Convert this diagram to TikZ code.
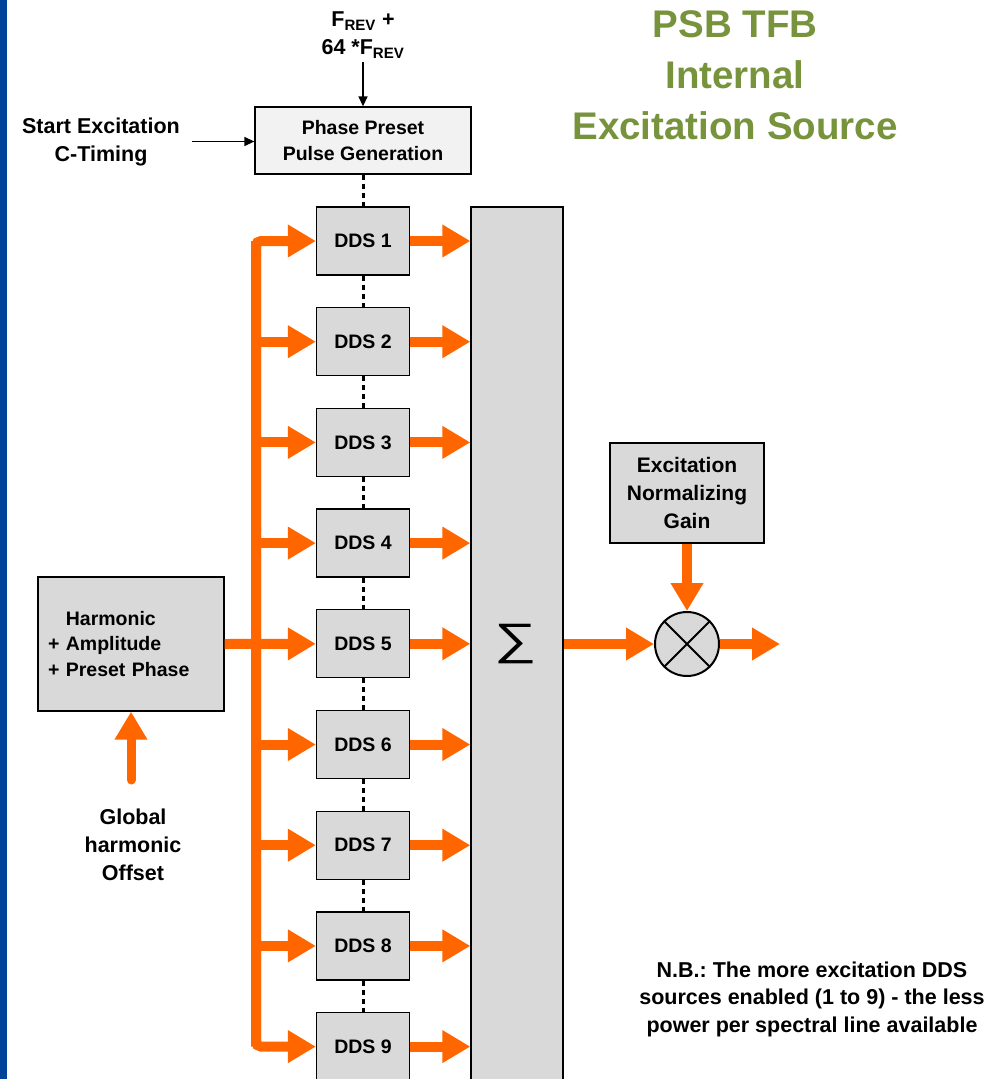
\documentclass[tikz,border=0pt]{standalone}
\usepackage{fontspec}
\setmainfont{Liberation Sans}
\usetikzlibrary{arrows.meta}
\definecolor{tfborange}{RGB}{255,102,0}
\definecolor{tfbgray}{RGB}{217,217,217}
\definecolor{tfbgreen}{RGB}{119,147,60}
\definecolor{tfbblue}{RGB}{0,68,153}
\frenchspacing
\begin{document}
\begin{tikzpicture}[x=1pt,y=-1pt,
  box/.style={draw, line width=1.3pt, fill=tfbgray, align=center,
    font=\bfseries\fontsize{19.5}{25.7}\selectfont},
  dds/.style={box, minimum width=93pt, minimum height=68pt},
  lbl/.style={align=center, font=\bfseries\fontsize{21.5}{28}\selectfont},
  fat/.style={draw=tfborange, line width=10pt, -{Triangle[length=28pt,width=31pt]}},
  thin/.style={line width=1.4pt, -{Triangle[length=10pt,width=9pt]}},
  dots/.style={line width=3pt, dash pattern=on 5pt off 4pt}]
  \useasboundingbox (0,0) rectangle (996,1079);
  \fill[tfbblue] (0,0) rectangle (7,1079);

  % title and notes
  \node[lbl, text=tfbgreen, font=\bfseries\fontsize{38.5}{51}\selectfont] (title) at (735,75)
    {PSB TFB\\Internal\\Excitation Source};
  \node[lbl, font=\bfseries\fontsize{21.5}{27.5}\selectfont] (nb) at (812,999)
    {N.B.: The more excitation DDS\\sources enabled (1 to 9) - the less\\power per spectral line available};

  % phase preset
  \node[lbl] (frev) at (363,35) {F\textsubscript{REV} +\\64 *F\textsubscript{REV}};
  \node[lbl] (start) at (101,141.5) {Start Excitation\\C-Timing};
  \node[box, fill=black!5, minimum width=216pt, minimum height=67pt] (phase) at (363,140.5)
    {Phase Preset\\Pulse Generation};
  \draw[thin] (frev.south) -- (phase.north);
  \draw[thin] ([xshift=9pt]start.east) -- (start.east -| phase.west);

  % DDS bank
  \node[dds] (d1) at (363,241) {DDS 1};     \node[dds] (d2) at (363,341.7) {DDS 2};
  \node[dds] (d3) at (363,442.4) {DDS 3};   \node[dds] (d4) at (363,543.1) {DDS 4};
  \node[dds] (d5) at (363,643.8) {DDS 5};   \node[dds] (d6) at (363,744.5) {DDS 6};
  \node[dds] (d7) at (363,845.2) {DDS 7};   \node[dds] (d8) at (363,945.9) {DDS 8};
  \node[dds] (d9) at (363,1046.6) {DDS 9};
  \draw[dots] (phase.south) -- (d1.north);
  \draw[dots] (d1.south) -- (d2.north); \draw[dots] (d2.south) -- (d3.north);
  \draw[dots] (d3.south) -- (d4.north); \draw[dots] (d4.south) -- (d5.north);
  \draw[dots] (d5.south) -- (d6.north); \draw[dots] (d6.south) -- (d7.north);
  \draw[dots] (d7.south) -- (d8.north); \draw[dots] (d8.south) -- (d9.north);

  % summing bar
  \node[draw, line width=1.3pt, fill=tfbgray, minimum width=92pt, minimum height=884pt] (sum) at (517,649) {};
  \node[font=\fontsize{44}{44}\selectfont, inner sep=0pt] (sig) at (515.5,644) {\scalebox{1.35}[1]{∑}};

  % harmonic settings
  \node[box, text width=166pt, align=left, inner xsep=10pt, minimum height=134pt] (harm) at (131,644)
    {\phantom{+ }Harmonic\\+ Amplitude\\+ Preset Phase};
  \node[lbl] (glob) at (133,845) {Global\\harmonic\\Offset};
  \coordinate (gtail) at (131,780);
  \draw[fat, line width=9pt, line cap=round] (gtail) -- (gtail |- harm.south);

  % distribution bus
  \coordinate (b1) at (256,241); \coordinate (b9) at (256,1046.6);
  \draw[fat, rounded corners=5pt] (b9) |- (d1.west);
  \draw[fat, rounded corners=5pt] (b1) |- (d9.west);
  \draw[fat] (d2.west -| b1) -- (d2.west); \draw[fat] (d3.west -| b1) -- (d3.west);
  \draw[fat] (d4.west -| b1) -- (d4.west); \draw[fat] (d6.west -| b1) -- (d6.west);
  \draw[fat] (d7.west -| b1) -- (d7.west); \draw[fat] (d8.west -| b1) -- (d8.west);
  \draw[fat] (harm.east) -- (d5.west);

  % DDS outputs into the sum
  \draw[fat] (d1.east) -- (d1.east -| sum.west); \draw[fat] (d2.east) -- (d2.east -| sum.west);
  \draw[fat] (d3.east) -- (d3.east -| sum.west); \draw[fat] (d4.east) -- (d4.east -| sum.west);
  \draw[fat] (d5.east) -- (d5.east -| sum.west); \draw[fat] (d6.east) -- (d6.east -| sum.west);
  \draw[fat] (d7.east) -- (d7.east -| sum.west); \draw[fat] (d8.east) -- (d8.east -| sum.west);
  \draw[fat] (d9.east) -- (d9.east -| sum.west);

  % normalizing gain
  \node[box, font=\bfseries\fontsize{21}{28}\selectfont, minimum width=154pt, minimum height=100pt] (gain) at (687,493)
    {Excitation\\Normalizing\\Gain};
  \node[draw, circle, line width=2pt, fill=tfbgray, minimum size=64pt] (mul) at (687,644) {};
  \draw[line width=2pt] (mul.north west) -- (mul.south east);
  \draw[line width=2pt] (mul.north east) -- (mul.south west);
  \coordinate (out) at (780,644);
  \draw[fat] (gain.south) -- (mul.north);
  \draw[fat] (mul.west -| sum.east) -- (mul.west);
  \draw[fat] (mul.east) -- (out);
\end{tikzpicture}
\end{document}
